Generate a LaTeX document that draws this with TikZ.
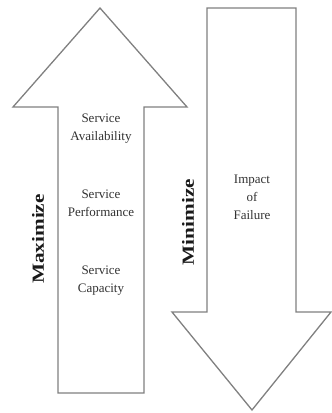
\documentclass[tikz,border=0pt]{standalone}
\usepackage{fontspec}
\setmainfont{Liberation Serif}
\begin{document}
\begin{tikzpicture}[x=1pt,y=-1pt,
  arrowshape/.style={draw=black!50,line width=1.3pt,line join=miter,fill=white},
  item/.style={align=center,text=black!80,font=\fontsize{13}{18}\selectfont,inner sep=0pt},
  goal/.style={text=black!90,font=\fontsize{17}{20}\selectfont\bfseries,rotate=90,xscale=1.25,inner sep=0pt}]
  \useasboundingbox (0,0) rectangle (332,413);
  % upward arrow
  \draw[arrowshape] (100,8) -- (13,107) -- (58,107) -- (58,393) -- (144,393)
    -- (144,107) -- (187,107) -- cycle;
  % downward arrow
  \draw[arrowshape] (207,8) -- (296,8) -- (296,312) -- (331,312) -- (252,410)
    -- (172,312) -- (207,312) -- cycle;
  % labels
  \node[item] (avail) at (101,129) {Service\\Availability};
  \node[item] (perf) at (101,203) {Service\\Performance};
  \node[item] (cap) at (101,281) {Service\\Capacity};
  \node[item] (impact) at (252,197) {Impact\\of\\Failure};
  \node[goal] (max) at (38,239) {Maximize};
  \node[goal] (min) at (188,222) {Minimize};
\end{tikzpicture}
\end{document}
